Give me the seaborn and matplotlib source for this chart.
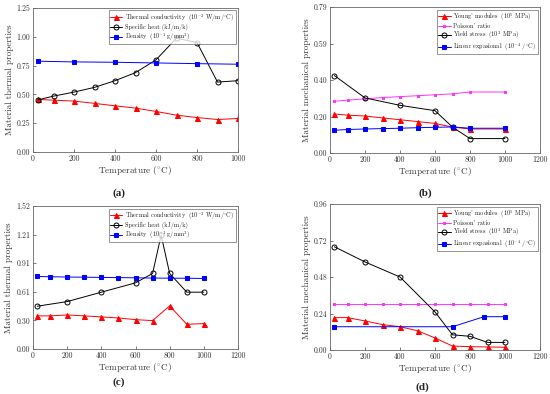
import matplotlib
matplotlib.use("Agg")
import matplotlib.pyplot as plt
import seaborn as sns

# panel (a)
a_x11 = [25, 100, 200, 300, 400, 500, 600, 700, 800, 900, 1000]
a_cond = [0.456, 0.45, 0.442, 0.422, 0.401, 0.381, 0.352, 0.320, 0.299, 0.282, 0.291]
a_heat = [0.453, 0.485, 0.52, 0.561, 0.619, 0.689, 0.80, 0.988, 0.95, 0.607, 0.619]
a_dens_x = [25, 200, 400, 600, 800, 1000]
a_dens = [0.788, 0.782, 0.779, 0.773, 0.767, 0.762]

# panel (b)
b_x10 = [25, 100, 200, 300, 400, 500, 600, 700, 800, 1000]
b_young = [0.211, 0.205, 0.20, 0.19, 0.18, 0.17, 0.16, 0.14, 0.13, 0.13]
b_poisson = [0.28, 0.286, 0.293, 0.30, 0.305, 0.31, 0.315, 0.32, 0.33, 0.33]
b_yield_x = [25, 200, 400, 600, 700, 800, 1000]
b_yield = [0.419, 0.298, 0.258, 0.229, 0.14, 0.078, 0.078]
b_linexp = [0.123, 0.127, 0.13, 0.132, 0.134, 0.137, 0.139, 0.141, 0.134, 0.134]

# panel (c)
c_x11 = [25, 100, 200, 300, 400, 500, 600, 700, 800, 900, 1000]
c_cond = [0.352, 0.352, 0.362, 0.352, 0.341, 0.330, 0.312, 0.302, 0.458, 0.263, 0.270]
c_heat_x = [25, 200, 400, 600, 700, 750, 800, 900, 1000]
c_heat = [0.455, 0.504, 0.604, 0.703, 0.803, 1.21, 0.803, 0.604, 0.604]
c_dens = [0.771, 0.768, 0.765, 0.763, 0.761, 0.759, 0.757, 0.754, 0.753, 0.752, 0.750]

# panel (d)
d_x11 = [25, 100, 200, 300, 400, 500, 600, 700, 800, 900, 1000]
d_young = [0.213, 0.213, 0.191, 0.167, 0.153, 0.127, 0.079, 0.026, 0.022, 0.020, 0.018]
d_poisson = [0.30] * 11
d_yield_x = [25, 200, 400, 600, 700, 800, 900, 1000]
d_yield = [0.679, 0.579, 0.480, 0.25, 0.10, 0.09, 0.05, 0.05]
d_linexp_x = [25, 700, 880, 1000]
d_linexp = [0.153, 0.153, 0.219, 0.219]

thermal_labels = [r"Thermal conductivity $\ (10^{-2}$ W/m/$^{\circ}$C)",
                  "Specific heat (kJ/m/k)",
                  r"Density $\ (10^{-1}$ g/mm$^{3}$)"]
mech_labels = [r"Young' modules $\ (10^{5}$ MPa)",
               "Poisson' ratio",
               r"Yield stress $\ (10^{3}$ MPa)",
               r"Linear expasional $\ (10^{-4}$ /$^{\circ}$C)"]

sns.set_theme(style="ticks")
plt.rcParams["font.family"] = "serif"
plt.rcParams["font.serif"] = ["cmr10", "DejaVu Serif"]
plt.rcParams["mathtext.fontset"] = "cm"
plt.rcParams["axes.formatter.use_mathtext"] = True
plt.rcParams["axes.unicode_minus"] = False

fig = plt.figure(figsize=(5.5, 3.94), dpi=100)
W, H = 550, 394


def add_ax(l, r, t, b):
    return fig.add_axes([l / W, 1 - b / H, (r - l) / W, (b - t) / H])


ax_a = add_ax(33, 238, 8, 152)
ax_b = add_ax(330, 540, 7, 153)
ax_c = add_ax(33, 238, 206, 349)
ax_d = add_ax(330, 540, 204, 350)

lw = 0.7


def tri(ax, x, y, lab):
    sns.lineplot(x=x, y=y, ax=ax, color="red", marker="^", markersize=3.6,
                 markeredgecolor="red", linewidth=lw, label=lab)


def circ(ax, x, y, lab):
    sns.lineplot(x=x, y=y, ax=ax, color="black", marker="o", markersize=3.6,
                 markerfacecolor="none", markeredgecolor="black",
                 markeredgewidth=0.7, linewidth=lw, label=lab)


def sq(ax, x, y, lab):
    sns.lineplot(x=x, y=y, ax=ax, color="blue", marker="s", markersize=2.8,
                 markeredgecolor="blue", linewidth=lw, label=lab)


def mag(ax, x, y, lab):
    sns.lineplot(x=x, y=y, ax=ax, color="#ff33ff", marker="s", markersize=1.9,
                 markeredgecolor="#ff33ff", linewidth=lw, label=lab)


tri(ax_a, a_x11, a_cond, thermal_labels[0])
circ(ax_a, a_x11, a_heat, thermal_labels[1])
sq(ax_a, a_dens_x, a_dens, thermal_labels[2])

tri(ax_b, b_x10, b_young, mech_labels[0])
mag(ax_b, b_x10, b_poisson, mech_labels[1])
circ(ax_b, b_yield_x, b_yield, mech_labels[2])
sq(ax_b, b_x10, b_linexp, mech_labels[3])

tri(ax_c, c_x11, c_cond, thermal_labels[0])
circ(ax_c, c_heat_x, c_heat, thermal_labels[1])
sq(ax_c, c_x11, c_dens, thermal_labels[2])

tri(ax_d, d_x11, d_young, mech_labels[0])
mag(ax_d, d_x11, d_poisson, mech_labels[1])
circ(ax_d, d_yield_x, d_yield, mech_labels[2])
sq(ax_d, d_linexp_x, d_linexp, mech_labels[3])

setup = [
    (ax_a, 1000, [0, 200, 400, 600, 800, 1000], 1.25,
     ["0.00", "0.25", "0.50", "0.75", "1.00", "1.25"], "Material thermal properties"),
    (ax_b, 1200, [0, 200, 400, 600, 800, 1000, 1200], 0.79,
     ["0.00", "0.20", "0.40", "0.59", "0.79"], "Material mechanical properties"),
    (ax_c, 1200, [0, 200, 400, 600, 800, 1000, 1200], 1.52,
     ["0.00", "0.30", "0.61", "0.91", "1.21", "1.52"], "Material thermal properties"),
    (ax_d, 1200, [0, 200, 400, 600, 800, 1000, 1200], 0.96,
     ["0.00", "0.24", "0.48", "0.72", "0.96"], "Material mechanical properties"),
]

for ax, xmax, xt, ymax, ylabs, ylab in setup:
    ax.set_xlim(0, xmax)
    ax.set_ylim(0, ymax)
    ax.set_xticks(xt)
    ax.set_xticklabels([str(v) for v in xt])
    n = len(ylabs)
    ax.set_yticks([ymax * i / (n - 1) for i in range(n)])
    ax.set_yticklabels(ylabs)
    ax.tick_params(labelsize=5.6, length=2, width=0.5, pad=2, direction="in",
                   colors="#444444", labelcolor="#333333")
    ax.set_xlabel(r"Temperature ($^{\circ}$C)", fontsize=6.6, labelpad=0.5, color="#333333")
    ax.set_ylabel(ylab, fontsize=6.6, labelpad=2, color="#333333")
    for s in ax.spines.values():
        s.set_visible(True)
        s.set_linewidth(0.6)
        s.set_color("#666666")
    leg = ax.legend(loc="upper right", fontsize=4.5, frameon=True, fancybox=False,
                    borderpad=0.2, labelspacing=0.05, handlelength=2.0,
                    handletextpad=0.4, borderaxespad=0.4)
    leg.get_frame().set_edgecolor("#444444")
    leg.get_frame().set_linewidth(0.5)

cap_font = dict(fontsize=8, fontweight="bold", family="Liberation Serif", ha="center", va="center")
fig.text(119 / W, 1 - 193 / H, "(a)", **cap_font)
fig.text(425 / W, 1 - 193 / H, "(b)", **cap_font)
fig.text(119 / W, 1 - 382 / H, "(c)", **cap_font)
fig.text(422 / W, 1 - 387 / H, "(d)", **cap_font)

fig.savefig("out.png", dpi=100)
